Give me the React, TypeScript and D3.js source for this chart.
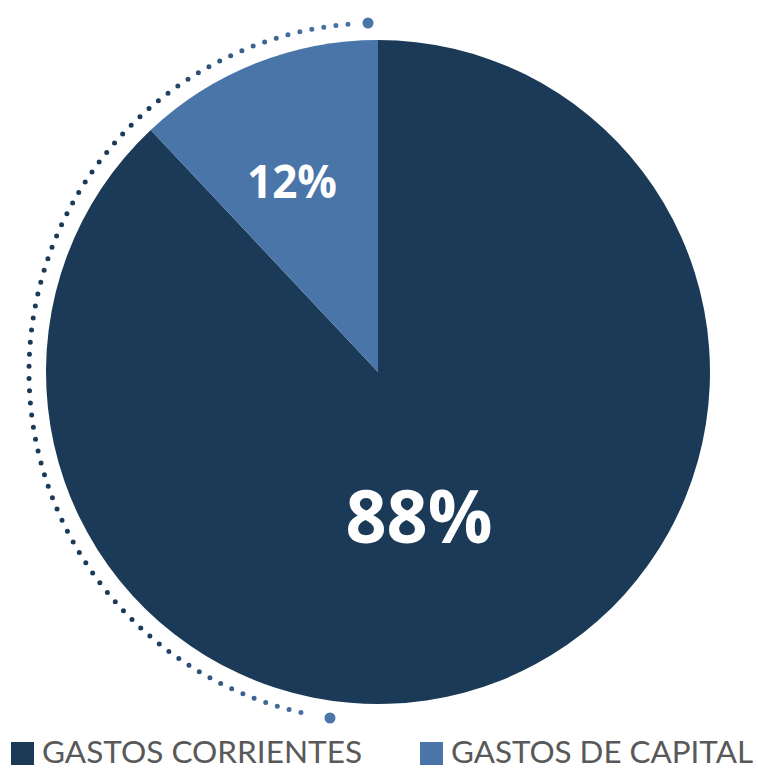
import React from "react";
import * as d3 from "d3";

const categories = ["GASTOS CORRIENTES", "GASTOS DE CAPITAL"];
const values = [88, 12];
const labels = ["88%", "12%"];
const colors = ["#1b3a58", "#4a75a8"];

const W = 758;
const H = 769;
const cx = 378;
const cy = 372;
const R = 332;
const RD = 349;

export default function App() {
  const pie = d3
    .pie<number>()
    .sort(null)
    .startAngle(0)
    .endAngle(2 * Math.PI)
    .value((d) => d);
  const arcs = pie(values);
  const arc = d3.arc<d3.PieArcDatum<number>>().innerRadius(0).outerRadius(R);

  const dp = d3.path();
  dp.arc(cx, cy, RD, -1.657, 1.766, true);

  const topDot = [368, 23];
  const botDot = [330, 718];

  // label positions
  const lab = [
    { x: 419, y: 543, size: 74, len: 147 },
    { x: 292, y: 198, size: 47, len: 90 },
  ];

  return (
    <svg
      width={W}
      height={H}
      style={{ position: "absolute", left: 0, top: 0 }}
      fontFamily="Lato, 'Open Sans', sans-serif"
    >
      <defs>
        <linearGradient id="dotg" gradientUnits="userSpaceOnUse" x1="0" y1="20" x2="0" y2="720">
          <stop offset="0" stopColor="#4a75a8" />
          <stop offset="0.12" stopColor="#1b3a58" />
          <stop offset="0.88" stopColor="#1b3a58" />
          <stop offset="1" stopColor="#4a75a8" />
        </linearGradient>
      </defs>
      <rect width={W} height={H} fill="#ffffff" />
      <path
        d={dp.toString()}
        fill="none"
        stroke="url(#dotg)"
        strokeWidth={5}
        strokeLinecap="round"
        strokeDasharray="0 12.2"
      />
      <circle cx={topDot[0]} cy={topDot[1]} r={5.5} fill="#4a75a8" />
      <circle cx={botDot[0]} cy={botDot[1]} r={5.5} fill="#4a75a8" />
      <g transform={`translate(${cx},${cy})`}>
        {arcs.map((a, i) => (
          <path key={i} d={arc(a) || ""} fill={colors[i]} />
        ))}
      </g>
      {labels.map((t, i) => (
        <text
          key={t}
          x={lab[i].x}
          y={lab[i].y}
          fill="#ffffff"
          fontWeight="bold"
          fontFamily="'Open Sans', Lato, sans-serif"
          fontSize={lab[i].size}
          textAnchor="middle"
          textLength={lab[i].len}
          lengthAdjust="spacingAndGlyphs"
        >
          {t}
        </text>
      ))}
      {categories.map((c, i) => {
        const x0 = i === 0 ? 11 : 420;
        const tl = i === 0 ? 320 : 302;
        return (
          <g key={c}>
            <rect x={x0} y={742} width={23} height={23} fill={colors[i]} />
            <text
              x={x0 + 31}
              y={763}
              fontSize={31}
              fill="#595959"
              textLength={tl}
              lengthAdjust="spacingAndGlyphs"
            >
              {c}
            </text>
          </g>
        );
      })}
    </svg>
  );
}
